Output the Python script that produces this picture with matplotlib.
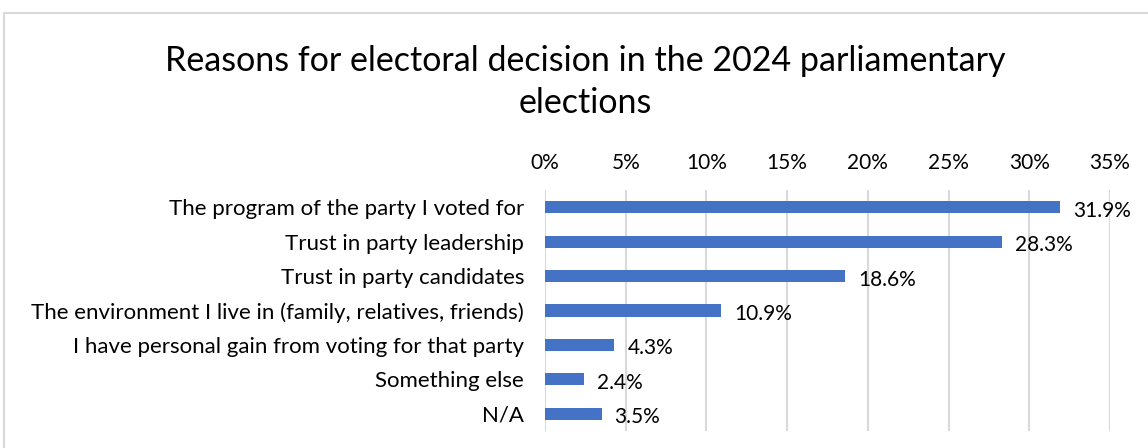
import matplotlib.pyplot as plt
from matplotlib.patches import Rectangle

reasons = [
    "The program of the party I voted for",
    "Trust in party leadership",
    "Trust in party candidates",
    "The environment I live in (family, relatives, friends)",
    "I have personal gain from voting for that party",
    "Something else",
    "N/A",
]
shares = [31.9, 28.3, 18.6, 10.9, 4.3, 2.4, 3.5]
ticks = [0, 5, 10, 15, 20, 25, 30, 35]

plt.rcParams['font.family'] = ['Lato', 'DejaVu Sans']

fig = plt.figure(figsize=(11.48, 4.48), dpi=100)
fig.patches.append(Rectangle((4 / 1148, -0.02), 1.0, (448 - 13) / 448 + 0.02,
                             transform=fig.transFigure, fill=False,
                             edgecolor='#d9d9d9', linewidth=1.5))

ax = fig.add_axes([545 / 1148, 17 / 448, (1110 - 545) / 1148, 241 / 448])
y = list(range(len(reasons)))
ax.barh(y, shares, height=0.35, color='#4472C4', zorder=3)
for yi, v in zip(y, shares):
    ax.text(v + 0.8, yi + 0.1, f"{v}%", va='center', ha='left', fontsize=15, color='#000000')

ax.set_xlim(0, 35)
ax.set_ylim(len(reasons) - 0.5, -0.5)
ax.set_xticks(ticks)
ax.set_xticklabels([f"{t}%" for t in ticks], fontsize=15)
ax.xaxis.tick_top()
ax.tick_params(axis='x', length=0, pad=12)
ax.set_yticks(y)
ax.set_yticklabels(reasons, fontsize=16)
ax.tick_params(axis='y', length=0, pad=15)
ax.grid(axis='x', color='#d9d9d9', linewidth=1.5, zorder=0)
for s in ax.spines.values():
    s.set_visible(False)

fig.text(585 / 1148, 1 - 82 / 448, "Reasons for electoral decision in the 2024 parliamentary\nelections",
         ha='center', va='center', fontsize=24.5, linespacing=1.4)

fig.savefig("out.png", dpi=100)
